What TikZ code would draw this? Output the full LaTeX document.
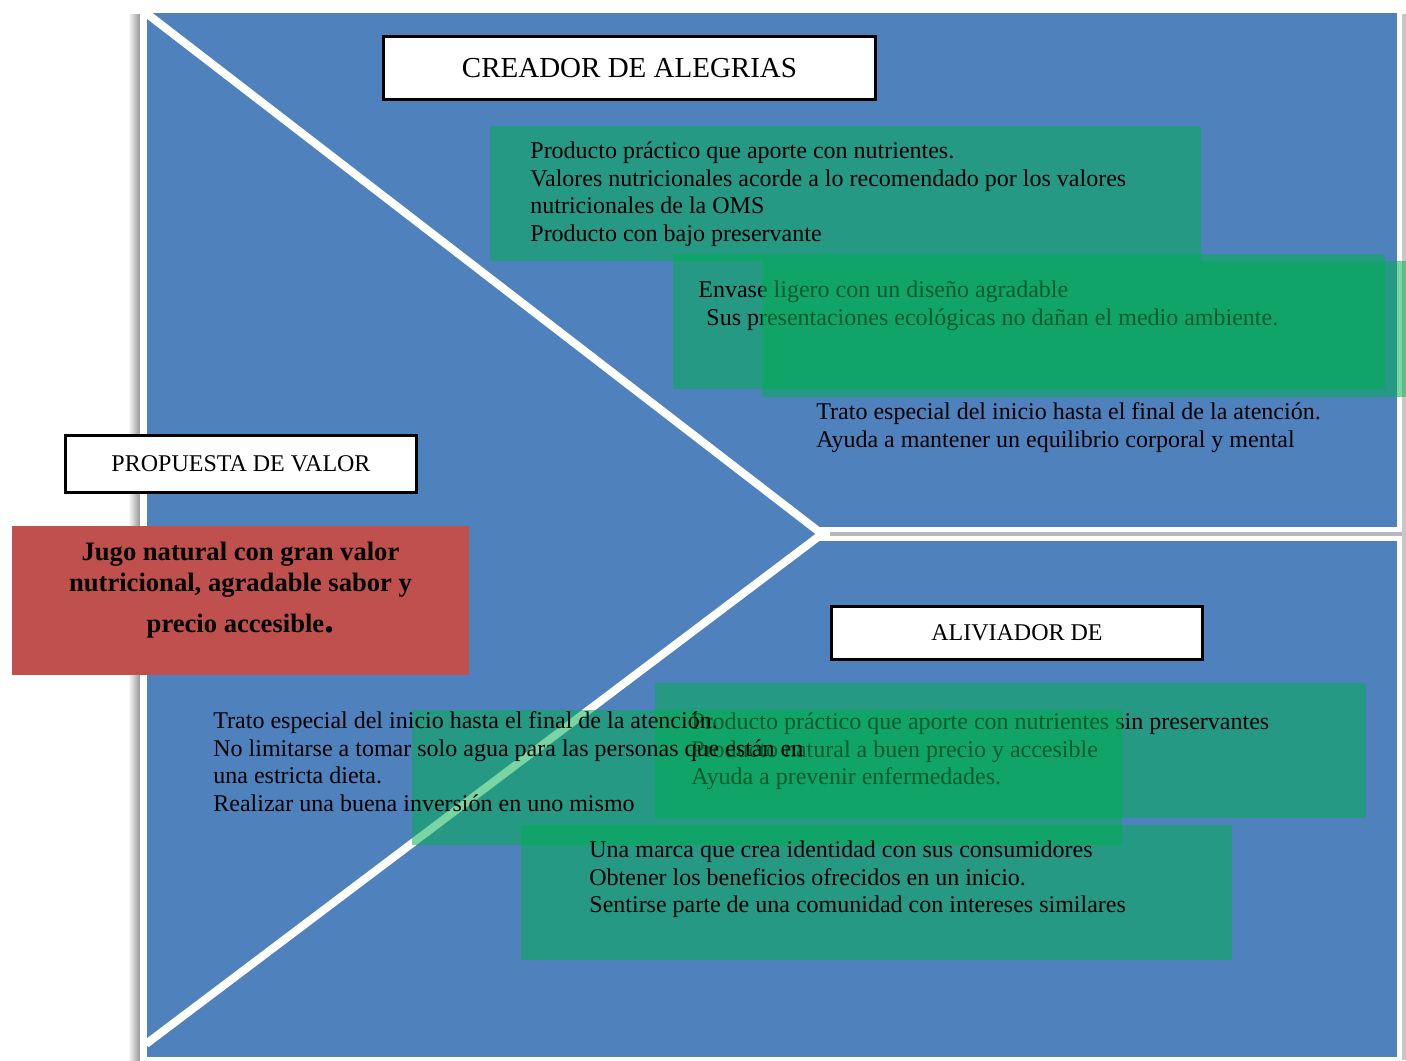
\documentclass[tikz,border=0pt]{standalone}
\usepackage{fontspec}
\setmainfont{Liberation Serif}
\definecolor{canvasblue}{HTML}{4F81BD}
\definecolor{leafgreen}{HTML}{00B050}
\definecolor{valuered}{HTML}{C0504D}
\tikzset{
  panel/.style={fill=leafgreen, fill opacity=0.52},
  body/.style={anchor=north west, inner sep=0pt, align=left,
    font=\fontsize{12}{13.8}\selectfont},
  titlebox/.style={draw=black, line width=1.5pt, fill=white, inner sep=0pt,
    font=\fontsize{12}{14}\selectfont},
  divider/.style={white, line width=4pt},
}
\begin{document}
\begin{tikzpicture}[x=0.5pt,y=-0.5pt]
\useasboundingbox (0,0) rectangle (1406,1060);
\fill[white] (0,0) rectangle (1406,1060);

% soft shadows beside the canvas
\shade[left color=white, right color=black!45] (128,14) rectangle (141,1060);
\fill[black!22] (1401,14) rectangle (1406,1060);

% canvas with its white rim
\fill[white] (140,8) rectangle (1402,1062);
\fill[canvasblue] (147,13) rectangle (1397,1057);

% chevron splitting the canvas
\coordinate (tl) at (146,13);
\coordinate (tip) at (822,534);
\coordinate (bl) at (146,1044);
\coordinate (re) at (1402,534);
\draw[divider, line join=miter] (tl) -- (tip) -- (bl);
\fill[white] (818,527) rectangle (1402,541);
\draw[black!28, line width=2pt] ([xshift=4pt]tip) -- (re);

% value proposition
\fill[valuered] (12,526) rectangle (469,675);
\node[anchor=north, inner sep=0pt, align=center,
  font=\fontsize{13.3}{15.5}\selectfont\bfseries] (jugo) at (240.5,538)
  {\strut Jugo natural con gran valor\\
   nutricional, agradable sabor y\\[5pt]
   precio accesible{\fontsize{20}{20}\selectfont.}};

% headings
\node[titlebox, minimum width=246pt, minimum height=31.5pt,
  font=\fontsize{14.5}{16}\selectfont] (creador) at (629.5,68) {CREADOR DE ALEGRIAS};
\node[titlebox, minimum width=175.5pt, minimum height=28.5pt] (propuesta) at (241,464) {PROPUESTA DE VALOR};
\node[titlebox, minimum width=185.5pt, minimum height=26.5pt] (aliviador) at (1017,633) {ALIVIADOR DE};

% gain creators
\fill[panel] (490,126) rectangle (1201,261);
\node[body] (g1) at (530,139) {\strut Producto práctico que aporte con nutrientes.\\
  Valores nutricionales acorde a lo recomendado por los valores\\
  nutricionales de la OMS\\
  Producto con bajo preservante};
\fill[panel] (673,254) rectangle (1385,389);
\node[body] (g2) at (698,278) {\strut Envase ligero con un diseño agradable\\
  \hspace*{4pt}Sus presentaciones ecológicas no dañan el medio ambiente.};
\fill[panel] (762,261) rectangle (1406,397);
\node[body] (g3) at (816,400) {\strut Trato especial del inicio hasta el final de la atención.\\
  Ayuda a mantener un equilibrio corporal y mental};

% pain relievers
\fill[panel] (655,683) rectangle (1366,818);
\node[body] (p1) at (691,710) {\strut Producto práctico que aporte con nutrientes sin preservantes\\
  Producto natural a buen precio y accesible\\
  Ayuda a prevenir enfermedades.};
\fill[panel] (412,710) rectangle (1122,845);
\node[body] (p2) at (213,709) {\strut Trato especial del inicio hasta el final de la atención.\\
  No limitarse a tomar solo agua para las personas que están en\\
  una estricta dieta.\\
  Realizar una buena inversión en uno mismo};
\fill[panel] (521,825) rectangle (1232,960);
\node[body] (p3) at (589,838) {\strut Una marca que crea identidad con sus consumidores\\
  Obtener los beneficios ofrecidos en un inicio.\\
  Sentirse parte de una comunidad con intereses similares};
\end{tikzpicture}
\end{document}
